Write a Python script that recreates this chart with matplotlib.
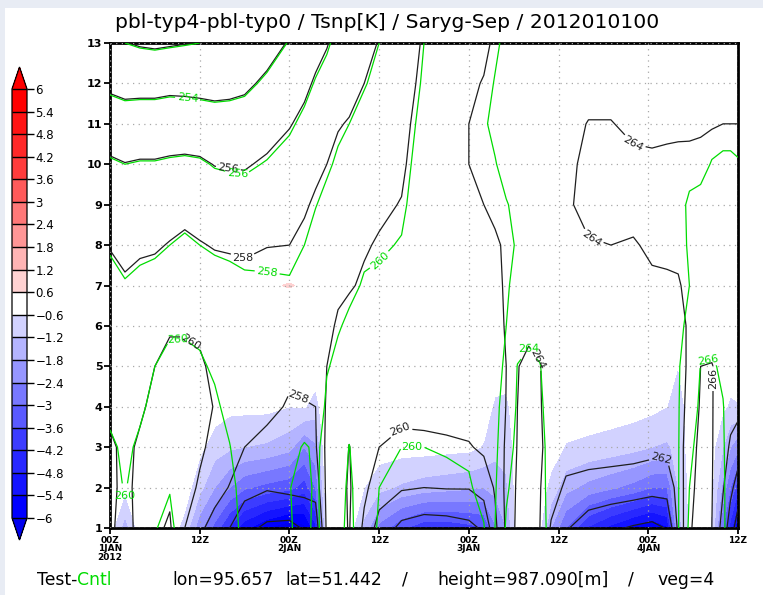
import matplotlib
matplotlib.use("Agg")
import matplotlib.pyplot as plt
import numpy as np
from matplotlib.colors import ListedColormap, BoundaryNorm
from matplotlib.patches import Rectangle

W, H = 763, 595

# forecast hour of each column (0 = 00Z 1 JAN 2012)
hours = [0, 2, 4, 6, 8, 10, 12, 14, 16, 18, 21, 24, 26, 27.5, 29, 30.5, 32, 34, 36, 39,
         42, 45, 48, 50, 51.5, 53, 54.5, 56, 57.5, 59, 61, 64, 67, 70, 72.5, 74.5, 76, 77.5,
         79, 80.5, 82, 83, 84]
# model levels
model_levels = list(range(1, 14))

# Cntl temperature [K], one profile (levels 1..13) per forecast hour
cntl_temp = [
    [260.8, 260.6, 260.3, 259.6, 259.1, 258.7, 258.3, 257.9, 257.0, 256.2, 255.0, 253.6, 252.3],
    [260.4, 259.9, 259.7, 259.4, 259.0, 258.6, 258.1, 257.5, 256.8, 256.0, 254.8, 253.4, 252.0],
    [261.2, 260.7, 260.25, 259.75, 259.3, 258.85, 258.3, 257.7, 256.9, 256.1, 254.9, 253.4, 251.8],
    [261.9, 261.2, 260.8, 260.4, 260.0, 259.3, 258.6, 257.7, 257.0, 256.1, 254.9, 253.4, 251.7],
    [262.5, 261.9, 261.2, 260.8, 260.4, 259.8, 259.0, 258.0, 257.1, 256.2, 255.0, 253.5, 251.8],
    [260.8, 260.9, 260.9, 260.7, 260.4, 259.8, 259.1, 258.3, 257.3, 256.3, 254.9, 253.5, 251.9],
    [260.6, 260.8, 260.7, 260.5, 260.2, 259.7, 258.9, 258.0, 257.2, 256.2, 254.9, 253.4, 252.0],
    [260.4, 260.6, 260.5, 260.25, 259.8, 259.3, 258.6, 257.8, 256.9, 255.9, 254.8, 253.3, 252.1],
    [260.3, 260.3, 260.05, 259.6, 259.2, 258.8, 258.45, 257.7, 256.8, 255.8, 254.8, 253.4, 252.2],
    [259.8, 259.6, 259.2, 258.9, 258.7, 258.5, 258.25, 257.6, 256.7, 255.75, 254.85, 253.6, 252.5],
    [259.6, 259.4, 259.0, 258.7, 258.55, 258.4, 258.2, 257.6, 256.9, 256.1, 255.2, 254.3, 253.2],
    [259.9, 259.95, 259.3, 258.5, 258.4, 258.25, 258.1, 257.7, 257.2, 256.5, 255.8, 255.0, 254.1],
    [260.4, 260.5, 260.2, 258.5, 258.45, 258.4, 258.3, 258.0, 257.5, 256.9, 256.3, 255.6, 254.9],
    [259.7, 259.75, 259.7, 258.9, 258.8, 258.75, 258.7, 258.5, 257.95, 257.4, 256.8, 256.1, 255.4],
    [260.6, 260.6, 260.5, 260.3, 259.9, 259.6, 259.3, 258.9, 258.35, 257.8, 257.2, 256.5, 255.8],
    [261.5, 261.3, 260.9, 260.6, 260.3, 259.9, 259.6, 259.2, 258.75, 258.2, 257.75, 257.0, 256.4],
    [262.4, 262.3, 262.05, 261.3, 260.8, 260.2, 259.75, 259.4, 259.1, 258.6, 258.0, 257.4, 256.7],
    [261.0, 261.0, 260.9, 260.7, 260.5, 260.3, 260.1, 259.8, 259.4, 259.0, 258.5, 257.9, 257.3],
    [259.8, 260.0, 260.3, 260.4, 260.4, 260.3, 260.15, 259.9, 259.6, 259.2, 258.8, 258.4, 258.0],
    [259.0, 259.5, 260.0, 260.3, 260.4, 260.4, 260.3, 260.05, 259.85, 259.7, 259.5, 259.2, 258.9],
    [259.0, 259.5, 260.0, 260.4, 260.6, 260.7, 260.7, 260.6, 260.5, 260.4, 260.3, 260.15, 260.0],
    [259.1, 259.7, 260.1, 260.6, 260.9, 261.0, 261.1, 261.1, 261.1, 261.0, 261.0, 260.9, 260.8],
    [259.3, 259.8, 260.3, 260.9, 261.2, 261.35, 261.45, 261.5, 261.55, 261.6, 261.6, 261.5, 261.4],
    [259.9, 260.6, 261.0, 261.2, 261.3, 261.4, 261.45, 261.5, 261.6, 261.7, 261.9, 261.7, 261.5],
    [262.0, 261.8, 261.6, 261.5, 261.4, 261.5, 261.5, 261.55, 261.75, 261.95, 262.2, 262.05, 261.85],
    [264.2, 263.8, 263.3, 262.8, 262.3, 262.0, 261.8, 261.75, 261.95, 262.3, 262.5, 262.4, 262.2],
    [264.8, 264.6, 264.4, 264.2, 264.05, 263.2, 262.5, 262.1, 262.2, 262.5, 262.7, 262.6, 262.5],
    [264.9, 264.8, 264.7, 264.5, 264.3, 263.6, 263.0, 262.6, 262.5, 262.7, 262.9, 262.8, 262.7],
    [264.5, 264.4, 264.35, 264.2, 264.05, 263.5, 263.1, 262.8, 262.7, 262.8, 263.0, 262.9, 262.8],
    [263.6, 263.6, 263.6, 263.5, 263.4, 263.2, 263.0, 262.9, 262.9, 263.0, 263.1, 263.0, 262.9],
    [263.2, 263.3, 263.4, 263.4, 263.35, 263.3, 263.25, 263.3, 263.45, 263.4, 263.3, 263.2, 263.1],
    [263.2, 263.4, 263.5, 263.5, 263.5, 263.45, 263.45, 263.6, 263.75, 263.7, 263.55, 263.35, 263.2],
    [263.3, 263.5, 263.6, 263.6, 263.6, 263.55, 263.55, 263.65, 263.75, 263.75, 263.55, 263.4, 263.3],
    [263.4, 263.6, 263.7, 263.7, 263.7, 263.65, 263.6, 263.6, 263.75, 263.8, 263.6, 263.45, 263.3],
    [263.5, 263.7, 263.75, 263.75, 263.75, 263.7, 263.7, 263.75, 263.8, 263.75, 263.55, 263.45, 263.35],
    [263.6, 263.75, 263.8, 263.8, 263.8, 263.8, 263.8, 263.8, 263.8, 263.8, 263.6, 263.5, 263.4],
    [263.9, 263.9, 263.9, 263.9, 263.9, 263.85, 263.8, 263.85, 263.9, 263.85, 263.65, 263.55, 263.45],
    [266.3, 266.0, 265.7, 265.1, 264.6, 264.15, 264.0, 264.05, 264.05, 263.9, 263.7, 263.6, 263.5],
    [266.8, 266.7, 266.5, 266.3, 266.05, 265.2, 264.6, 264.3, 264.1, 263.9, 263.75, 263.65, 263.55],
    [266.7, 266.6, 266.5, 266.35, 266.15, 265.4, 264.9, 264.55, 264.3, 264.02, 263.85, 263.75, 263.65],
    [266.2, 266.15, 266.1, 266.05, 265.8, 265.3, 264.9, 264.6, 264.35, 264.05, 263.9, 263.8, 263.7],
    [265.4, 265.5, 265.5, 265.4, 265.3, 265.0, 264.8, 264.55, 264.35, 264.05, 263.9, 263.8, 263.7],
    [265.0, 265.1, 265.2, 265.2, 265.1, 264.9, 264.7, 264.5, 264.3, 264.02, 263.9, 263.8, 263.7],
]

# Test minus Cntl temperature [K], same layout as cntl_temp
temp_diff = [
    [-0.3, -0.1, 0, 0, 0, 0.05, 0.05, 0.05, 0.05, 0.05, 0.05, 0.05, 0.05],
    [-1.5, -0.45, -0.1, 0, 0, 0.05, 0.1, 0.1, 0.05, 0.05, 0.05, 0.05, 0.05],
    [-0.3, -0.1, 0, 0, 0, 0.05, 0.1, 0.1, 0.05, 0.05, 0.05, 0.05, 0.05],
    [-0.2, -0.1, 0, 0, 0, 0.05, 0.1, 0.1, 0.05, 0.05, 0.05, 0.05, 0.05],
    [-0.3, -0.2, -0.05, 0, 0, 0.05, 0.1, 0.1, 0.05, 0.05, 0.05, 0.05, 0.05],
    [-0.8, -0.3, -0.1, 0, 0, 0.05, 0.1, 0.1, 0.05, 0.05, 0.05, 0.05, 0.05],
    [-2.2, -1.0, -0.45, -0.15, 0, 0.05, 0.1, 0.1, 0.05, 0.05, 0.05, 0.05, 0.05],
    [-3.2, -1.8, -0.9, -0.3, -0.1, 0.05, 0.1, 0.1, 0.1, 0.05, 0.05, 0.05, 0.05],
    [-4.3, -2.4, -1.1, -0.45, -0.2, 0, 0.1, 0.15, 0.1, 0.1, 0.05, 0.05, 0.05],
    [-5.2, -2.9, -1.2, -0.45, -0.2, 0.05, 0.15, 0.2, 0.15, 0.1, 0.05, 0.05, 0.05],
    [-6.0, -3.2, -1.3, -0.45, -0.15, 0.1, 0.56, 0.35, 0.25, 0.15, 0.1, 0.05, 0.05],
    [-6.5, -3.4, -1.6, -0.6, -0.2, 0.3, 0.62, 0.3, 0.3, 0.2, 0.1, 0.05, 0.05],
    [-6.2, -3.9, -2.4, -0.55, -0.2, 0.25, 0.56, 0.4, 0.3, 0.2, 0.1, 0.05, 0.05],
    [-5.0, -3.0, -1.9, -0.9, -0.2, 0.2, 0.35, 0.35, 0.3, 0.2, 0.1, 0.1, 0.05],
    [-0.2, -0.1, 0, 0, 0.1, 0.2, 0.3, 0.3, 0.3, 0.2, 0.15, 0.1, 0.1],
    [-0.1, 0, 0, 0, 0.1, 0.2, 0.25, 0.3, 0.3, 0.2, 0.15, 0.1, 0.1],
    [-0.3, -0.1, 0, 0, 0.1, 0.2, 0.15, 0.2, 0.2, 0.15, 0.1, 0.1, 0.1],
    [-1.4, -0.6, -0.1, 0, 0.1, 0.1, 0.05, 0.1, 0.2, 0.15, 0.1, 0.1, 0.1],
    [-2.6, -1.0, -0.3, 0.05, 0.1, 0.15, 0.15, 0.2, 0.2, 0.1, 0.1, 0.1, 0.1],
    [-3.5, -1.3, -0.35, 0.1, 0.15, 0.2, 0.25, 0.25, 0.2, 0.1, 0.1, 0.1, 0.1],
    [-4.0, -1.5, -0.35, 0.1, 0.2, 0.25, 0.3, 0.35, 0.35, 0.35, 0.3, 0.25, 0.2],
    [-4.0, -1.6, -0.4, 0.1, 0.2, 0.25, 0.3, 0.35, 0.35, 0.35, 0.35, 0.3, 0.25],
    [-3.8, -1.7, -0.45, 0, 0.15, 0.25, 0.3, 0.35, 0.4, 0.4, 0.4, 0.35, 0.3],
    [-3.6, -1.8, -0.65, -0.3, 0, 0.2, 0.3, 0.35, 0.4, 0.4, 0.4, 0.35, 0.3],
    [-2.5, -1.6, -1.0, -0.7, -0.3, 0.1, 0.3, 0.35, 0.4, 0.4, 0.4, 0.35, 0.3],
    [-1.8, -1.3, -1.0, -0.75, -0.3, 0.1, 0.3, 0.35, 0.4, 0.4, 0.4, 0.35, 0.3],
    [-0.3, -0.3, -0.3, -0.2, -0.1, 0.1, 0.3, 0.35, 0.4, 0.4, 0.35, 0.3, 0.3],
    [-0.1, -0.1, -0.1, -0.1, 0, 0.1, 0.3, 0.35, 0.4, 0.4, 0.3, 0.3, 0.25],
    [-0.5, -0.3, -0.1, -0.1, 0, 0.1, 0.3, 0.35, 0.4, 0.4, 0.3, 0.25, 0.2],
    [-1.8, -0.8, -0.3, -0.1, 0, 0.1, 0.3, 0.35, 0.45, 0.4, 0.3, 0.2, 0.15],
    [-3.0, -1.6, -0.65, -0.2, 0, 0.15, 0.2, 0.3, 0.45, 0.45, 0.3, 0.2, 0.15],
    [-4.3, -2.0, -0.75, -0.25, 0, 0.15, 0.2, 0.35, 0.45, 0.45, 0.5, 0.2, 0.1],
    [-5.0, -2.3, -0.85, -0.3, -0.05, 0.15, 0.2, 0.35, 0.45, 0.45, 0.5, 0.15, 0.1],
    [-5.6, -2.6, -1.0, -0.35, -0.1, 0.15, 0.2, 0.35, 0.45, 0.45, 0.15, 0.1, 0.1],
    [-6.0, -3.0, -1.2, -0.45, -0.2, 0.15, 0.2, 0.35, 0.45, 0.45, 0.15, 0.1, 0.1],
    [-5.5, -3.0, -1.3, -0.6, -0.3, 0.05, 0.1, 0.35, 0.45, 0.45, 0.15, 0.1, 0.1],
    [-1.5, -1.2, -1.0, -0.85, -0.6, -0.2, 0.1, 0.4, 0.4, 0.4, 0.15, 0.1, 0.1],
    [-0.5, -0.5, -0.4, -0.4, -0.3, 0, 0.3, 0.3, 0.3, 0.3, 0.15, 0.1, 0.1],
    [-0.1, -0.1, -0.1, -0.1, -0.05, 0.1, 0.3, 0.3, 0.3, 0.3, 0.15, 0.1, 0.1],
    [-0.7, -0.5, -0.4, -0.3, -0.1, 0.1, 0.3, 0.3, 0.3, 0.3, 0.1, 0.05, 0.05],
    [-3.0, -2.0, -1.2, -0.5, -0.2, 0.05, 0.25, 0.3, 0.3, 0.3, 0.1, 0.05, 0.05],
    [-4.5, -3.0, -1.8, -0.7, -0.3, 0.05, 0.25, 0.3, 0.3, 0.3, 0.1, 0.05, 0.05],
    [-6.0, -4.0, -2.2, -0.65, -0.2, 0.05, 0.25, 0.3, 0.3, 0.3, 0.1, 0.05, 0.05],
]

# shading intervals and colours
shade_bounds = [-6, -5.4, -4.8, -4.2, -3.6, -3, -2.4, -1.8, -1.2, -0.6,
                0.6, 1.2, 1.8, 2.4, 3, 3.6, 4.2, 4.8, 5.4, 6]
shade_labels = ["\u22126", "\u22125.4", "\u22124.8", "\u22124.2", "\u22123.6", "\u22123",
                "\u22122.4", "\u22121.8", "\u22121.2", "\u22120.6",
                "0.6", "1.2", "1.8", "2.4", "3", "3.6", "4.2", "4.8", "5.4", "6"]
blue_shades = ["#0000ff", "#1414ff", "#2828ff", "#3c3cff", "#5a5aff",
               "#7878ff", "#9696ff", "#b4b4ff", "#d2d2ff"]
red_shades = ["#ffd2d2", "#ffb4b4", "#ff9696", "#ff7878", "#ff5a5a",
              "#ff3c3c", "#ff2828", "#ff1414", "#ff0000"]
under_colour = "#0000f0"
over_colour = "#ff0000"

temp_contours = list(range(250, 272, 2))

# contour label anchors (level, hour, model level)
cntl_label_spots = [(254, 10.3, 11.5), (256, 17.0, 9.7), (258, 21.0, 7.3), (260, 9.0, 5.7),
                    (260, 2.0, 1.7), (260, 36.8, 7.5), (260, 40.4, 3.1), (264, 56.0, 5.45),
                    (266, 80.0, 5.15)]
test_label_spots = [(256, 15.8, 9.85), (258, 17.8, 7.7), (260, 10.8, 5.6), (258, 25.5, 4.4),
                    (260, 39.0, 3.4), (262, 73.6, 3.7), (264, 56.6, 5.1), (266, 80.7, 4.7),
                    (264, 69.6, 10.35), (264, 64.5, 8.2)]

xtick_hours = [0, 12, 24, 36, 48, 60, 72, 84]
xtick_labels = ["00Z\n1JAN\n2012", "12Z", "00Z\n2JAN", "12Z", "00Z\n3JAN", "12Z",
                "00Z\n4JAN", "12Z"]

title_text = "pbl-typ4-pbl-typ0 / Tsnp[K] / Saryg-Sep / 2012010100"
green = "#00dc00"

# ---------------------------------------------------------------- figure
fig = plt.figure(figsize=(W / 100, H / 100), dpi=100)
fig.patch.set_facecolor("#e8ecf4")
fig.add_artist(Rectangle((5 / W, 0), 1, 1 - 8 / H, transform=fig.transFigure,
                         facecolor="white", edgecolor="none", zorder=-10))

ax = fig.add_axes([110 / W, 1 - 528 / H, 628 / W, 485 / H])

cntl = np.array(cntl_temp).T
diff = np.array(temp_diff).T
test = cntl + diff

cmap = ListedColormap(blue_shades + ["#ffffff"] + red_shades)
cmap.set_under(under_colour)
cmap.set_over(over_colour)
norm = BoundaryNorm(shade_bounds, cmap.N)

cf = ax.contourf(hours, model_levels, diff, levels=shade_bounds, cmap=cmap, norm=norm,
                 extend="both", zorder=1)
cs_test = ax.contour(hours, model_levels, test, levels=temp_contours, colors="#1e1e1e",
                     linewidths=0.9, zorder=3)
cs_cntl = ax.contour(hours, model_levels, cntl, levels=temp_contours, colors=green,
                     linewidths=0.9, zorder=3)


def place_labels(cs, spots):
    # set up label styling for every level, then label one chosen level near each spot
    cs.clabel(levels=cs.levels, manual=[], inline=True, inline_spacing=2,
              fontsize=8, fmt="%d")
    all_levels = list(cs.levels)
    for lev, hx, ly in spots:
        cs.labelIndiceList = [all_levels.index(lev)]
        cs.add_label_near(hx, ly, inline=True, inline_spacing=2)


place_labels(cs_test, test_label_spots)
place_labels(cs_cntl, cntl_label_spots)

ax.set_xlim(0, 84)
ax.set_ylim(1, 13)
ax.set_xticks(xtick_hours)
ax.set_xticklabels(xtick_labels, fontsize=6.5, fontweight="bold", linespacing=0.95)
ax.set_yticks(model_levels)
ax.set_yticklabels([str(v) for v in model_levels], fontsize=8, fontweight="bold")
ax.tick_params(axis="both", direction="out", length=4, width=1.3, pad=1.5)
ax.grid(True, linestyle=(0, (1, 3.5)), color="#a8a8a8", linewidth=0.9)
ax.set_axisbelow(False)
for sp in ax.spines.values():
    sp.set_linewidth(2)

# colour key (the box spans the end triangles too)
cax = fig.add_axes([12 / W, 1 - 540 / H, 15 / W, 473 / H])
cb = fig.colorbar(cf, cax=cax, orientation="vertical", ticks=shade_bounds,
                  spacing="uniform", drawedges=True, extendfrac=22 / 429)
cb.ax.set_yticklabels(shade_labels)
cb.ax.tick_params(length=5, width=1, labelsize=8.5, pad=1)
cb.outline.set_linewidth(0.9)
cb.dividers.set_linewidth(1)

# titles
renderer = fig.canvas.get_renderer()


def fit_width(txt, width_px):
    w = txt.get_window_extent(renderer).width
    txt.set_fontsize(txt.get_fontsize() * width_px / w)


title = fig.text(387 / W, 1 - 23 / H, title_text, ha="center", va="center", fontsize=14)
fit_width(title, 542)

footer = [("Test-", 37, "black"), ("Cntl", None, green), ("lon=95.657", 172, "black"),
          ("lat=51.442", 285, "black"), ("/", 402, "black"),
          ("height=987.090[m]", 437, "black"), ("/", 628, "black"), ("veg=4", 657, "black")]
probe = fig.text(0, 0, "height=987.090[m]", fontsize=12)
fit_width(probe, 170)
foot_size = probe.get_fontsize()
probe.remove()
x_next = 0
for s, xp, col in footer:
    x = x_next if xp is None else xp
    t = fig.text(x / W, 1 - 580 / H, s, ha="left", va="center", fontsize=foot_size, color=col)
    x_next = x + t.get_window_extent(renderer).width

fig.savefig("out.png", dpi=100, facecolor=fig.get_facecolor())
